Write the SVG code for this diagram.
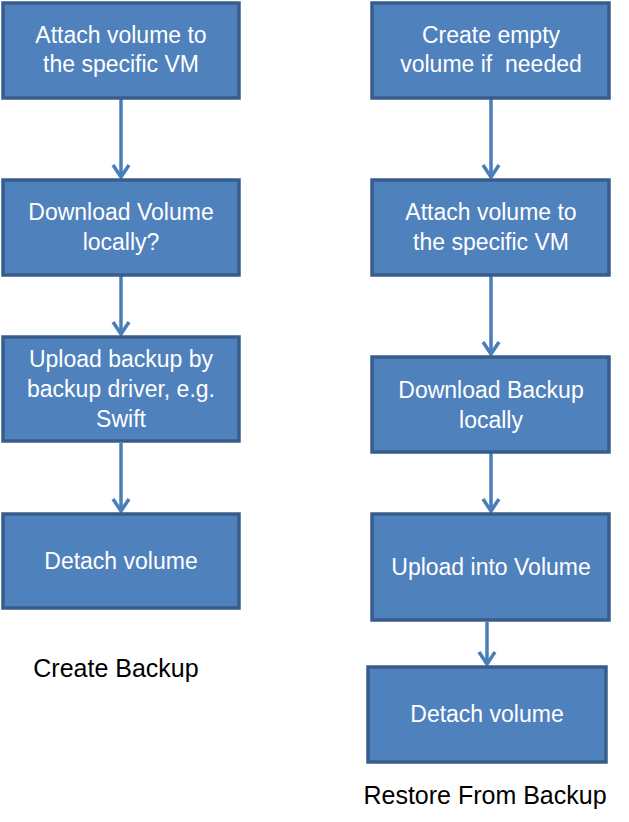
<svg xmlns="http://www.w3.org/2000/svg" width="629" height="822" viewBox="0 0 629 822">
<style>
.box{fill:#4F81BD;stroke:#385D8A;stroke-width:3.5}
.t{font-family:"Liberation Sans",Arial,sans-serif;font-size:23px;fill:#FFFFFF;text-anchor:middle;white-space:pre}
.lbl{font-family:"Liberation Sans",Arial,sans-serif;font-size:25px;fill:#000000;text-anchor:middle}
.conn{stroke:#4A7EBB;stroke-width:3.5;fill:none;marker-end:url(#arr)}
</style>
<defs>
<marker id="arr" markerUnits="userSpaceOnUse" markerWidth="20" markerHeight="20" viewBox="-14 -10 16 20" refX="0" refY="0" orient="auto">
<path d="M-12,-8 L0,0 L-12,8" fill="none" stroke="#4A7EBB" stroke-width="3.5"/>
</marker>
</defs>
<rect width="629" height="822" fill="#FFFFFF"/>
<g id="connectors">
<line class="conn" x1="121" y1="99" x2="121" y2="177"/>
<line class="conn" x1="121" y1="276" x2="121" y2="334"/>
<line class="conn" x1="121" y1="443" x2="121" y2="511"/>
<line class="conn" x1="491" y1="99" x2="491" y2="177"/>
<line class="conn" x1="491" y1="276" x2="491" y2="354"/>
<line class="conn" x1="491" y1="453" x2="491" y2="511"/>
<line class="conn" x1="487" y1="622" x2="487" y2="664"/>
</g>
<g id="c1">
<rect class="box" x="3" y="3" width="236" height="95"/>
<text class="t" x="121" y="43">Attach volume to</text>
<text class="t" x="121" y="72">the specific VM</text>
</g>
<g id="c2">
<rect class="box" x="3" y="180" width="236" height="95"/>
<text class="t" x="121" y="220">Download Volume</text>
<text class="t" x="121" y="250">locally?</text>
</g>
<g id="c3">
<rect class="box" x="3" y="337" width="236" height="104"/>
<text class="t" x="121" y="367">Upload backup by</text>
<text class="t" x="121" y="397">backup driver, e.g.</text>
<text class="t" x="121" y="427">Swift</text>
</g>
<g id="c4">
<rect class="box" x="3" y="514" width="236" height="94"/>
<text class="t" x="121" y="569">Detach volume</text>
</g>
<g id="label-create">
<text class="lbl" x="116" y="677">Create Backup</text>
</g>
<g id="r1">
<rect class="box" x="372" y="3" width="237" height="95"/>
<text class="t" x="491" y="43">Create empty</text>
<text class="t" x="491" y="72" xml:space="preserve">volume if  needed</text>
</g>
<g id="r2">
<rect class="box" x="372" y="180" width="237" height="95"/>
<text class="t" x="491" y="220">Attach volume to</text>
<text class="t" x="491" y="250">the specific VM</text>
</g>
<g id="r3">
<rect class="box" x="372" y="357" width="237" height="95"/>
<text class="t" x="491" y="398">Download Backup</text>
<text class="t" x="491" y="428">locally</text>
</g>
<g id="r4">
<rect class="box" x="372" y="514" width="237" height="106"/>
<text class="t" x="491" y="575">Upload into Volume</text>
</g>
<g id="r5">
<rect class="box" x="368" y="667" width="238" height="95"/>
<text class="t" x="487" y="722">Detach volume</text>
</g>
<g id="label-restore">
<text class="lbl" x="485" y="804">Restore From Backup</text>
</g>
</svg>
